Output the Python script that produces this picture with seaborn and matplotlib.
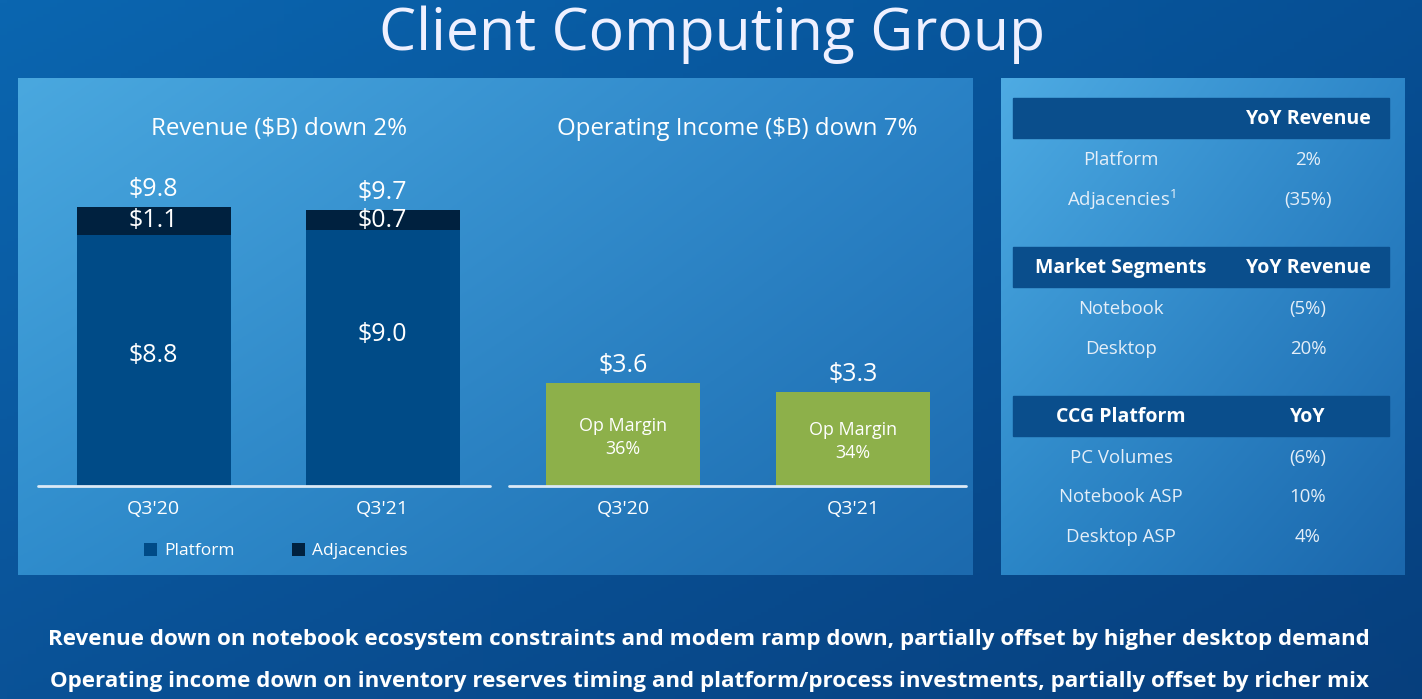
import numpy as np
import matplotlib
matplotlib.use("Agg")
import matplotlib.pyplot as plt
from matplotlib.colors import to_rgb
from matplotlib.patches import Rectangle, Patch
import seaborn as sns

# ---------------- data ----------------
quarters = ["Q3'20", "Q3'21"]
platform_rev = [8.8, 9.0]
adjacency_rev = [1.1, 0.7]
total_rev = [9.8, 9.7]
op_income = [3.6, 3.3]
op_margin = ["36%", "34%"]

title = "Client Computing Group"
rev_title = "Revenue ($B) down 2%"
op_title = "Operating Income ($B) down 7%"

tbl1_header = ["", "YoY Revenue"]
tbl1_rows = ["Platform", "Adjacencies$^{1}$"]
tbl1_vals = ["2%", "(35%)"]
tbl2_header = ["Market Segments", "YoY Revenue"]
tbl2_rows = ["Notebook", "Desktop"]
tbl2_vals = ["(5%)", "20%"]
tbl3_header = ["CCG Platform", "YoY"]
tbl3_rows = ["PC Volumes", "Notebook ASP", "Desktop ASP"]
tbl3_vals = ["(6%)", "10%", "4%"]

footnotes = [
    "Revenue down on notebook ecosystem constraints and modem ramp down, partially offset by higher desktop demand",
    "Operating income down on inventory reserves timing and platform/process investments, partially offset by richer mix",
]

# ---------------- style ----------------
sns.set_theme(style="white")
FONT = ["Open Sans", "DejaVu Sans"]
plt.rcParams["font.family"] = FONT
plt.rcParams["mathtext.fontset"] = "custom"
plt.rcParams["mathtext.rm"] = "Open Sans"

PLAT = "#004b87"
ADJ = "#00213f"
GREEN = "#8db04a"
HEAD = "#0a4e8c"
TXT = "#e4eef8"

W, H = 1422, 699
fig = plt.figure(figsize=(W / 100, H / 100), dpi=100)


def grad(c_tl, c_tr, c_bl, c_br, n=200):
    a, b, c, d = (np.array(to_rgb(x)) for x in (c_tl, c_tr, c_bl, c_br))
    u = np.linspace(0, 1, n)[None, :, None]
    v = np.linspace(0, 1, n)[:, None, None]
    return (1 - v) * ((1 - u) * a + u * b) + v * ((1 - u) * c + u * d)


bg = fig.add_axes([0, 0, 1, 1])
bg.set_xlim(0, W)
bg.set_ylim(H, 0)
bg.axis("off")
bg.imshow(grad("#0b66b0", "#064f94", "#0a5297", "#073f7d"),
          extent=[0, W, H, 0], aspect="auto", zorder=0)
# panels
bg.imshow(grad("#4aa8df", "#2a82c6", "#2f8ccc", "#1c6aae"),
          extent=[18, 973, 575, 78], aspect="auto", zorder=1)
bg.imshow(grad("#4eabe3", "#2d86c8", "#2b86c7", "#1b67ac"),
          extent=[1001, 1405, 575, 78], aspect="auto", zorder=1)

bg.text(W / 2 + 1, 50, title, ha="center", va="baseline", fontsize=42.5,
        color="#eef0ff", zorder=3)
bg.text(279, 129, rev_title, ha="center", va="center", fontsize=17.4,
        color="white", zorder=3)
bg.text(737, 129, op_title, ha="center", va="center", fontsize=17.3,
        color="white", zorder=3)

# ---------------- tables ----------------
def table(y_head, header, rows, vals):
    bg.add_patch(Rectangle((1013, y_head), 376, 40, color=HEAD, zorder=2))
    bg.text(1121, y_head + 21, header[0], ha="center", va="center",
            fontsize=14, fontweight="bold", color="white", zorder=3)
    bg.text(1308, y_head + 21, header[1], ha="center", va="center",
            fontsize=14, fontweight="bold", color="white", zorder=3)
    for i, (r, v) in enumerate(zip(rows, vals)):
        yy = y_head + 62 + i * 39.5
        bg.text(1121, yy, r, ha="center", va="center", fontsize=13.4,
                color=TXT, zorder=3)
        bg.text(1308, yy, v, ha="center", va="center", fontsize=13.4,
                color=TXT, zorder=3)


table(98, tbl1_header, tbl1_rows, tbl1_vals)
table(247, tbl2_header, tbl2_rows, tbl2_vals)
table(396, tbl3_header, tbl3_rows, tbl3_vals)

for i, line in enumerate(footnotes):
    bg.text(W / 2 - 2, 640 + i * 42, line, ha="center", va="center",
            fontsize=16.1, fontweight="bold", color="white", zorder=3)

# ---------------- bar charts ----------------
px_per_unit = 28.5
y_base = 486
ymax = 11
ax_h = ymax * px_per_unit
ax1 = fig.add_axes([38 / W, (H - y_base) / H, 452 / W, ax_h / H])
ax2 = fig.add_axes([509 / W, (H - y_base) / H, 457 / W, ax_h / H])

bw = 154 / 229
bar_kw = dict(saturation=1, edgecolor="none", linewidth=0)
sns.barplot(x=quarters, y=total_rev, color=ADJ, width=bw, ax=ax1,
            zorder=2, **bar_kw)
sns.barplot(x=quarters, y=platform_rev, color=PLAT, width=bw, ax=ax1,
            zorder=3, **bar_kw)
sns.barplot(x=quarters, y=op_income, color=GREEN, width=154 / 230, ax=ax2,
            zorder=2, **bar_kw)

ax1.set_xlim((38 - 153.5) / 229, (490 - 153.5) / 229)
ax2.set_xlim((509 - 623) / 230, (966 - 623) / 230)

VAL_FS = 18
plat_label_frac = [0.52, 0.59]
for i in range(len(quarters)):
    ax1.text(i, total_rev[i] + 0.6, f"${total_rev[i]:.1f}", ha="center",
             va="center", fontsize=VAL_FS, color="white", zorder=5)
    ax1.text(i, platform_rev[i] + adjacency_rev[i] / 2 - 0.05,
             f"${adjacency_rev[i]:.1f}", ha="center", va="center",
             fontsize=VAL_FS, color="white", zorder=5)
    ax1.text(i, platform_rev[i] * plat_label_frac[i],
             f"${platform_rev[i]:.1f}", ha="center", va="center",
             fontsize=VAL_FS, color="white", zorder=5)
    ax2.text(i, op_income[i] + 0.62, f"${op_income[i]:.1f}", ha="center",
             va="center", fontsize=VAL_FS, color="white", zorder=5)
    ax2.text(i, op_income[i] / 2 - 0.1, f"Op Margin\n{op_margin[i]}",
             ha="center", va="center", fontsize=12.9, color="white",
             linespacing=1.35, zorder=5)

for ax in (ax1, ax2):
    ax.set_ylim(0, ymax)
    ax.patch.set_alpha(0)
    for s in ax.spines.values():
        s.set_visible(False)
    ax.axhline(0, color="#dbe9f6", lw=2, zorder=6, clip_on=False)
    ax.set_yticks([])
    ax.set_xlabel("")
    ax.set_ylabel("")
    ax.tick_params(axis="x", length=0, pad=10, labelsize=14,
                   labelcolor="white")

handles = [Patch(facecolor=PLAT, edgecolor="none", label="Platform"),
           Patch(facecolor=ADJ, edgecolor="none", label="Adjacencies")]
fig.legend(handles=handles, loc="center", bbox_to_anchor=(276 / W, 1 - 551 / H),
           ncol=2, frameon=False, fontsize=12.5, labelcolor="white",
           handlelength=0.75, handleheight=0.75, handletextpad=0.4,
           columnspacing=3.3)

fig.savefig("out.png", dpi=100)
